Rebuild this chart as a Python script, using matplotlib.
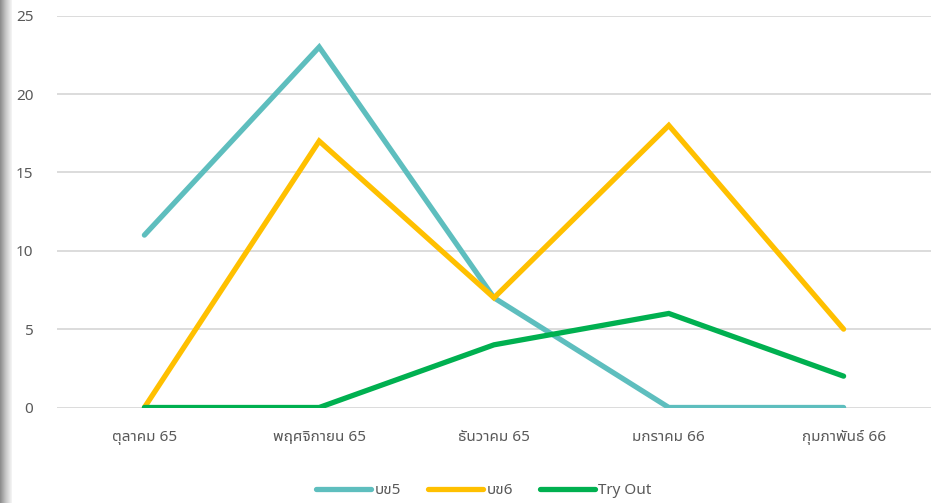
import matplotlib
matplotlib.use("Agg")
import matplotlib.pyplot as plt
import numpy as np
from matplotlib.colors import LinearSegmentedColormap

categories = ["ตุลาคม 65", "พฤศจิกายน 65", "ธันวาคม 65", "มกราคม 66", "กุมภาพันธ์ 66"]
series_names = ["บข5", "บข6", "Try Out"]
bk5 = [11, 23, 7, 0, 0]
bk6 = [0, 17, 7, 18, 5]
tryout = [0, 0, 4, 6, 2]
colors = ["#5EBEBE", "#FFC000", "#00B050"]
yticks = [0, 5, 10, 15, 20, 25]

FONT = ['Noto Sans', 'Noto Sans Thai UI', 'DejaVu Sans']
plt.rcParams['font.family'] = FONT
TXT = "#595959"
FS = 11

fig = plt.figure(figsize=(9.38, 5.03), dpi=100)
W, H = 938, 503
ax = fig.add_axes([57 / W, 1 - 407.5 / H, (931 - 57) / W, (407.5 - 15.7) / H])

# left gray gradient strip
gx = fig.add_axes([0, 0, 11 / W, 1])
grad = np.linspace(0, 1, 64).reshape(1, -1)
cmap = LinearSegmentedColormap.from_list("g", ["#8a8a8a", "#c8c8c8", "#f6f6f6"])
gx.imshow(grad, aspect='auto', cmap=cmap, extent=[0, 1, 0, 1])
gx.set_axis_off()

x = np.arange(len(categories))
for vals, name, c in zip([bk5, bk6, tryout], series_names, colors):
    ax.plot(x, vals, color=c, lw=3.8, solid_capstyle='round', solid_joinstyle='miter', label=name, zorder=3)

ax.set_xlim(-0.5, len(categories) - 0.5)
ax.set_ylim(0, 25)
ax.set_yticks(yticks)
ax.set_xticks(x)
ax.set_xticklabels(categories)
ax.grid(axis='y', color='#D9D9D9', lw=1.3, zorder=0)
for s in ax.spines.values():
    s.set_visible(False)
ax.tick_params(axis='both', length=0, colors=TXT, labelsize=FS)
ax.tick_params(axis='y', pad=17)
ax.tick_params(axis='x', pad=16)

leg = fig.legend(loc='center', bbox_to_anchor=(484 / W, 1 - 491 / H), ncol=3, frameon=False,
                 fontsize=FS, handlelength=3.6, handletextpad=0.2, columnspacing=1.8, labelcolor=TXT)
for l in leg.get_lines():
    l.set_linewidth(3.8)
    l.set_solid_capstyle('round')

fig.savefig("out.png", dpi=100)
